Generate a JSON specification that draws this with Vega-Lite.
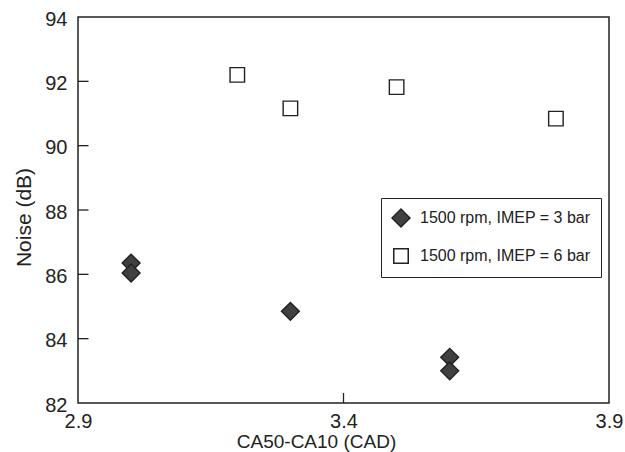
{
  "$schema": "https://vega.github.io/schema/vega-lite/v6.json",
  "width": 531,
  "height": 386,
  "autosize": {"type": "none"},
  "padding": {"left": 78, "top": 17, "right": 16, "bottom": 49},
  "background": "white",
  "config": {
    "view": {"stroke": "#222", "strokeWidth": 1.5},
    "font": "Liberation Sans",
    "legend": {
      "title": null, "orient": "none", "legendX": 303, "legendY": 181,
      "padding": 10, "rowPadding": 15, "labelOffset": 9, "labelLimit": 400,
      "strokeColor": "#222", "fillColor": "white", "cornerRadius": 0,
      "labelFontSize": 16, "labelColor": "#222", "labelFont": "Liberation Sans"
    }
  },
  "layer": [
    {
      "data": {"values": [{"ca": 3.4}]},
      "mark": {"type": "rule", "color": "#222", "strokeWidth": 1.3},
      "encoding": {
        "x": {"field": "ca", "type": "quantitative", "scale": {"domain": [2.9, 3.9], "nice": false, "zero": false}},
        "y": {"datum": 82, "type": "quantitative", "scale": {"domain": [82, 94], "nice": false, "zero": false}},
        "y2": {"datum": 82.31}
      }
    },
    {
      "data": {"values": [{"noise": 84}, {"noise": 86}, {"noise": 88}, {"noise": 90}, {"noise": 92}]},
      "mark": {"type": "tick", "orient": "horizontal", "size": 21, "thickness": 1.3, "color": "#222", "opacity": 1, "clip": true},
      "encoding": {
        "y": {"field": "noise", "type": "quantitative", "scale": {"domain": [82, 94], "nice": false, "zero": false}},
        "x": {"datum": 2.9, "type": "quantitative", "scale": {"domain": [2.9, 3.9], "nice": false, "zero": false}}
      }
    },
    {
      "data": {
        "values": [
          {"ca": 3.0, "noise": 86.35, "series": "1500 rpm, IMEP = 3 bar"},
          {"ca": 3.0, "noise": 86.04, "series": "1500 rpm, IMEP = 3 bar"},
          {"ca": 3.3, "noise": 84.85, "series": "1500 rpm, IMEP = 3 bar"},
          {"ca": 3.6, "noise": 83.42, "series": "1500 rpm, IMEP = 3 bar"},
          {"ca": 3.6, "noise": 83.0, "series": "1500 rpm, IMEP = 3 bar"},
          {"ca": 3.2, "noise": 92.2, "series": "1500 rpm, IMEP = 6 bar"},
          {"ca": 3.3, "noise": 91.16, "series": "1500 rpm, IMEP = 6 bar"},
          {"ca": 3.5, "noise": 91.82, "series": "1500 rpm, IMEP = 6 bar"},
          {"ca": 3.8, "noise": 90.84, "series": "1500 rpm, IMEP = 6 bar"}
        ]
      },
      "mark": {"type": "point", "filled": true, "opacity": 1, "stroke": "#222", "strokeWidth": 1.4},
      "encoding": {
        "x": {
          "field": "ca", "type": "quantitative",
          "scale": {"domain": [2.9, 3.9], "nice": false, "zero": false},
          "axis": {
            "values": [2.9, 3.4, 3.9], "format": ".1f", "grid": false, "domain": false, "ticks": false,
            "labelPadding": 8, "labelFlush": false, "labelFontSize": 20, "labelColor": "#222",
            "title": "CA50-CA10 (CAD)", "titleFontSize": 19, "titleFontWeight": "normal", "titleColor": "#222",
            "titleX": 238, "titleY": 44, "titleAlign": "center", "titleBaseline": "alphabetic"
          }
        },
        "y": {
          "field": "noise", "type": "quantitative",
          "scale": {"domain": [82, 94], "nice": false, "zero": false},
          "axis": {
            "values": [82, 84, 86, 88, 90, 92, 94], "grid": false, "domain": false, "ticks": false,
            "labelPadding": 11, "labelFlush": false, "labelFontSize": 20, "labelColor": "#222", "labelOffset": 2,
            "title": "Noise (dB)", "titleFontSize": 21, "titleFontWeight": "normal", "titleColor": "#222",
            "titleX": -54, "titleY": 200, "titleAlign": "center", "titleBaseline": "middle", "titleAngle": -90
          }
        },
        "shape": {
          "field": "series", "type": "nominal",
          "scale": {"domain": ["1500 rpm, IMEP = 3 bar", "1500 rpm, IMEP = 6 bar"], "range": ["diamond", "square"]},
          "legend": {
            "encode": {"symbols": {"update": {"stroke": {"value": "#222"}, "strokeWidth": {"value": 1.4}}}}
          }
        },
        "fill": {
          "field": "series", "type": "nominal",
          "scale": {"domain": ["1500 rpm, IMEP = 3 bar", "1500 rpm, IMEP = 6 bar"], "range": ["#404040", "#ffffff"]},
          "legend": {
            "encode": {"symbols": {"update": {"stroke": {"value": "#222"}, "strokeWidth": {"value": 1.4}}}}
          }
        },
        "size": {
          "field": "series", "type": "nominal",
          "scale": {"domain": ["1500 rpm, IMEP = 3 bar", "1500 rpm, IMEP = 6 bar"], "range": [320, 210]},
          "legend": {
            "encode": {"symbols": {"update": {"stroke": {"value": "#222"}, "strokeWidth": {"value": 1.4}}}}
          }
        }
      }
    }
  ]
}
